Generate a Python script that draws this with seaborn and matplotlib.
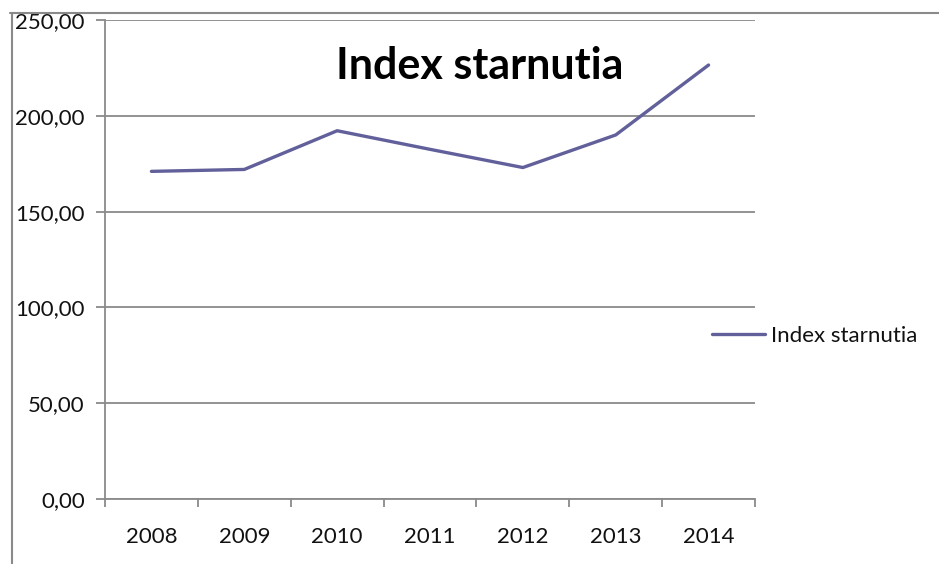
import matplotlib
matplotlib.use("Agg")
import matplotlib.pyplot as plt
import seaborn as sns
import pandas as pd
from matplotlib.lines import Line2D
from matplotlib.ticker import FixedLocator, FuncFormatter

years = ["2008", "2009", "2010", "2011", "2012", "2013", "2014"]
index_values = [171.0, 172.0, 192.2, 182.5, 173.0, 190.0, 226.5]
series_name = "Index starnutia"
y_ticks = [0, 50, 100, 150, 200, 250]

sns.set_theme(style="white")
plt.rcParams["font.family"] = ["Lato", "DejaVu Sans"]

df = pd.DataFrame({"year": years, "value": index_values})

W, H = 939, 564
fig = plt.figure(figsize=(W / 100, H / 100), dpi=100)
L, R, T, B = 105, 755, 20, 499
ax = fig.add_axes([L / W, 1 - B / H, (R - L) / W, (B - T) / H])

grey = "#8a8a8a"
sns.lineplot(data=df, x="year", y="value", ax=ax, color="#62609b",
             linewidth=2.4, label=series_name, sort=False)

ax.set_xlim(-0.5, len(years) - 0.5)
ax.set_ylim(0, 250)
ax.set_yticks(y_ticks)
ax.yaxis.set_major_formatter(FuncFormatter(lambda v, p: f"{v:.2f}".replace(".", ",")))
ax.set_xticks(range(len(years)))
ax.set_xticklabels(years)
ax.xaxis.set_minor_locator(FixedLocator([i - 0.5 for i in range(len(years) + 1)]))

ax.grid(axis="y", color=grey, linewidth=1.3)
ax.set_axisbelow(True)
for s in ["top", "right"]:
    ax.spines[s].set_visible(False)
for s in ["left", "bottom"]:
    ax.spines[s].set_color(grey)
    ax.spines[s].set_linewidth(1.3)

ax.tick_params(axis="y", which="major", length=6.5, width=1.3, color=grey,
               direction="out", labelsize=16, pad=8, left=True, labelcolor="#111111")
ax.tick_params(axis="x", which="major", length=0, labelsize=16, pad=20, labelcolor="#111111")
ax.tick_params(axis="x", which="minor", length=6, width=1.3, color=grey,
               direction="out", bottom=True)
ax.set_xlabel("")
ax.set_ylabel("")

ax.text((480 - L) / (R - L), (B - 66) / (B - T), series_name, transform=ax.transAxes,
        ha="center", va="center", fontsize=31, fontweight="bold", color="#000000")

leg = ax.legend(loc="center left", bbox_to_anchor=((712 - L) / (R - L), (B - 336) / (B - T)),
                frameon=False, fontsize=16, handlelength=2.4, handletextpad=0.25,
                borderpad=0, borderaxespad=0)
for t in leg.get_texts():
    t.set_color("#111111")

# outer chart frame lines (partial border as in the reference)
fig.add_artist(Line2D([10 / W, 1], [1 - 13 / H, 1 - 13 / H], color=grey, linewidth=1.5,
                      transform=fig.transFigure))
fig.add_artist(Line2D([12 / W, 12 / W], [0, 1 - 13 / H], color=grey, linewidth=1.5,
                      transform=fig.transFigure))

fig.savefig("out.png", dpi=100)
